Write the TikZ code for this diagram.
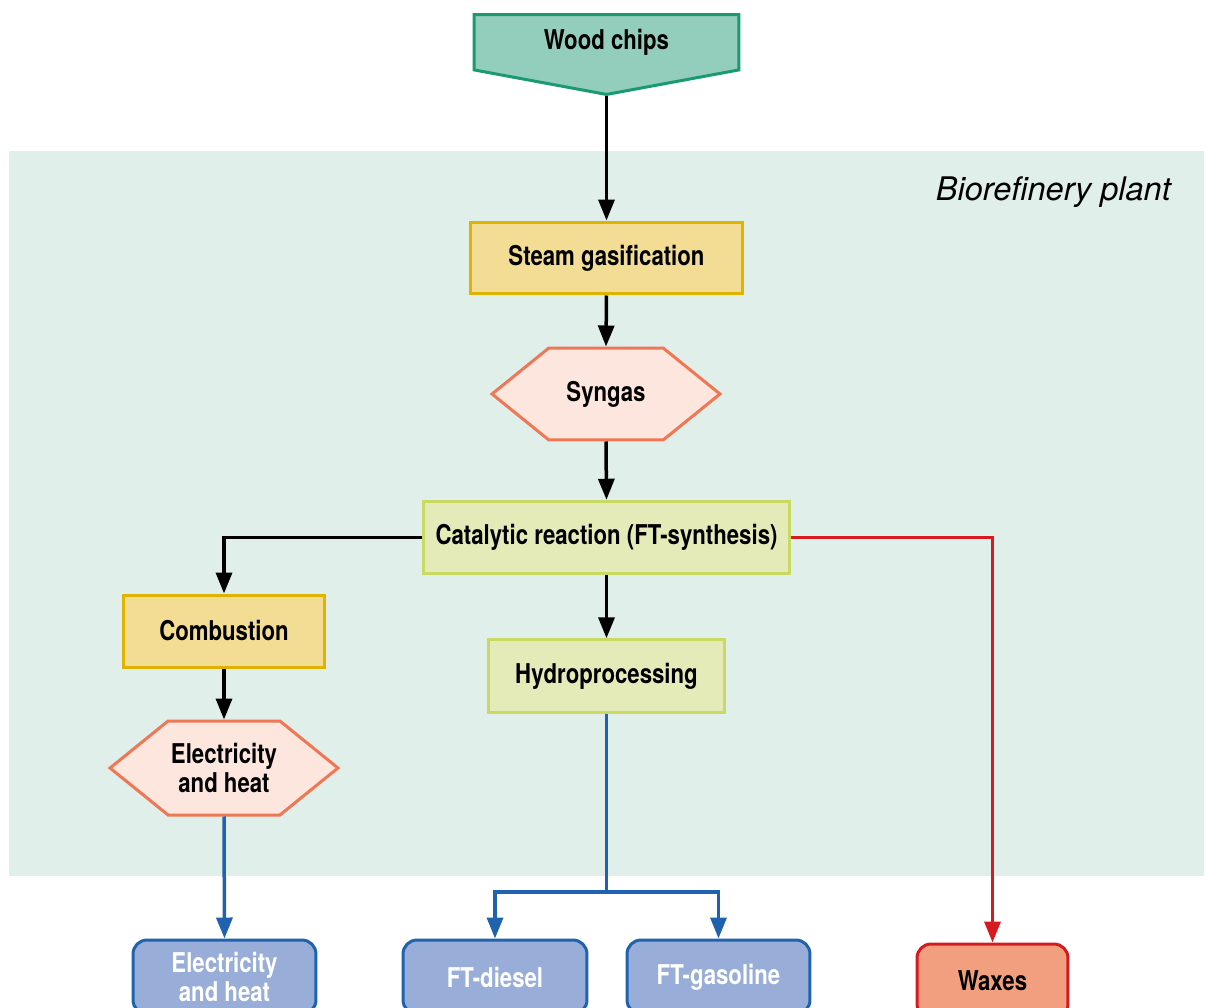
\documentclass[tikz,border=0pt]{standalone}
\usepackage{fontspec}
\setmainfont{TeX Gyre Heros}
\newfontfamily\condfont{TeX Gyre Heros}[FakeStretch=0.815]
\usepackage{tikz}
\usetikzlibrary{arrows.meta,shapes.symbols}

\definecolor{plantbg}{HTML}{E0EFEA}
\definecolor{woodfill}{HTML}{93CDBB}
\definecolor{woodline}{HTML}{1A9A72}
\definecolor{goldfill}{HTML}{F3DC93}
\definecolor{goldline}{HTML}{E0B300}
\definecolor{pinkfill}{HTML}{FDE6DD}
\definecolor{pinkline}{HTML}{EE7756}
\definecolor{limefill}{HTML}{E4EBB9}
\definecolor{limeline}{HTML}{C8DA62}
\definecolor{outfill}{HTML}{98AED8}
\definecolor{blueline}{HTML}{1F62AE}
\definecolor{waxfill}{HTML}{F29F80}
\definecolor{redline}{HTML}{D71920}

\begin{document}
\begin{tikzpicture}[x=0.02cm, y=-0.02cm,
    box/.style={draw, line width=0.06cm, inner sep=0pt, align=center,
        font=\condfont\bfseries\fontsize{15.5}{16.5}\selectfont},
    process/.style={box, fill=goldfill, draw=goldline, minimum height=1.44cm},
    reaction/.style={box, fill=limefill, draw=limeline, minimum height=1.45cm},
    product/.style={box, signal, signal to=west and east, signal pointer angle=78,
        fill=pinkfill, draw=pinkline, minimum width=4.56cm},
    endbox/.style={box, rounded corners=0.28cm, fill=outfill, draw=blueline,
        text=white, minimum height=1.48cm},
    flow/.style={line width=0.07cm, -{Triangle[length=0.42cm,width=0.32cm]}}]
    \useasboundingbox (0,0) rectangle (1208,1008);

    % Plant area
    \fill[plantbg] (9,151) rectangle (1204,876);
    \node[anchor=east, font=\itshape\fontsize{18.5}{20}\selectfont] (plant) at (1177,192) {Biorefinery plant};

    % Main line
    \node[box, signal, signal to=south, signal pointer angle=159, fill=woodfill, draw=woodline,
        minimum width=5.3cm, minimum height=1.34cm, anchor=north] (wood) at (606.5,13) {Wood chips};
    \node[process, minimum width=5.46cm] (steam) at (606.5,258) {Steam gasification};
    \node[product, minimum height=1.84cm] (syngas) at (606,394) {Syngas};
    \node[reaction, minimum width=7.34cm] (cat) at (606.5,537.5) {Catalytic reaction (FT-synthesis)};
    \node[process, minimum width=4.04cm] (comb) at (224,631) {Combustion};
    \node[reaction, minimum width=4.74cm] (hydro) at (606.5,676) {Hydroprocessing};
    \node[product, minimum height=1.88cm] (power) at (224,768) {Electricity\\and heat};

    % Products
    \node[endbox, minimum width=3.66cm] (powerout) at (224.5,977) {Electricity\\and heat};
    \node[endbox, minimum width=3.68cm] (diesel) at (495,977) {FT-diesel};
    \node[endbox, minimum width=3.66cm] (gasoline) at (718.5,977) {FT-gasoline};
    \node[endbox, fill=waxfill, draw=redline, text=black, minimum width=3.02cm] (waxes) at (992.5,981) {Waxes};

    % Connectors
    \draw[flow] (wood.south) -- (steam.north);
    \draw[flow] (steam.south) -- (syngas.north);
    \draw[flow] (syngas.south) -- (cat.north);
    \draw[flow] (cat.west) -| (comb.north);
    \draw[flow] (cat.south) -- (hydro.north);
    \draw[flow] (comb.south) -- (power.north);
    \draw[flow, redline] (cat.east) -| (waxes.north);
    \draw[flow, blueline] (power.south) -- (powerout.north);
    \coordinate (fork) at (606.5,892);
    \draw[line width=0.07cm, blueline] (hydro.south) -- (fork);
    \draw[flow, blueline] (fork) -| (diesel.north);
    \draw[flow, blueline] (fork) -| (gasoline.north);
\end{tikzpicture}
\end{document}
